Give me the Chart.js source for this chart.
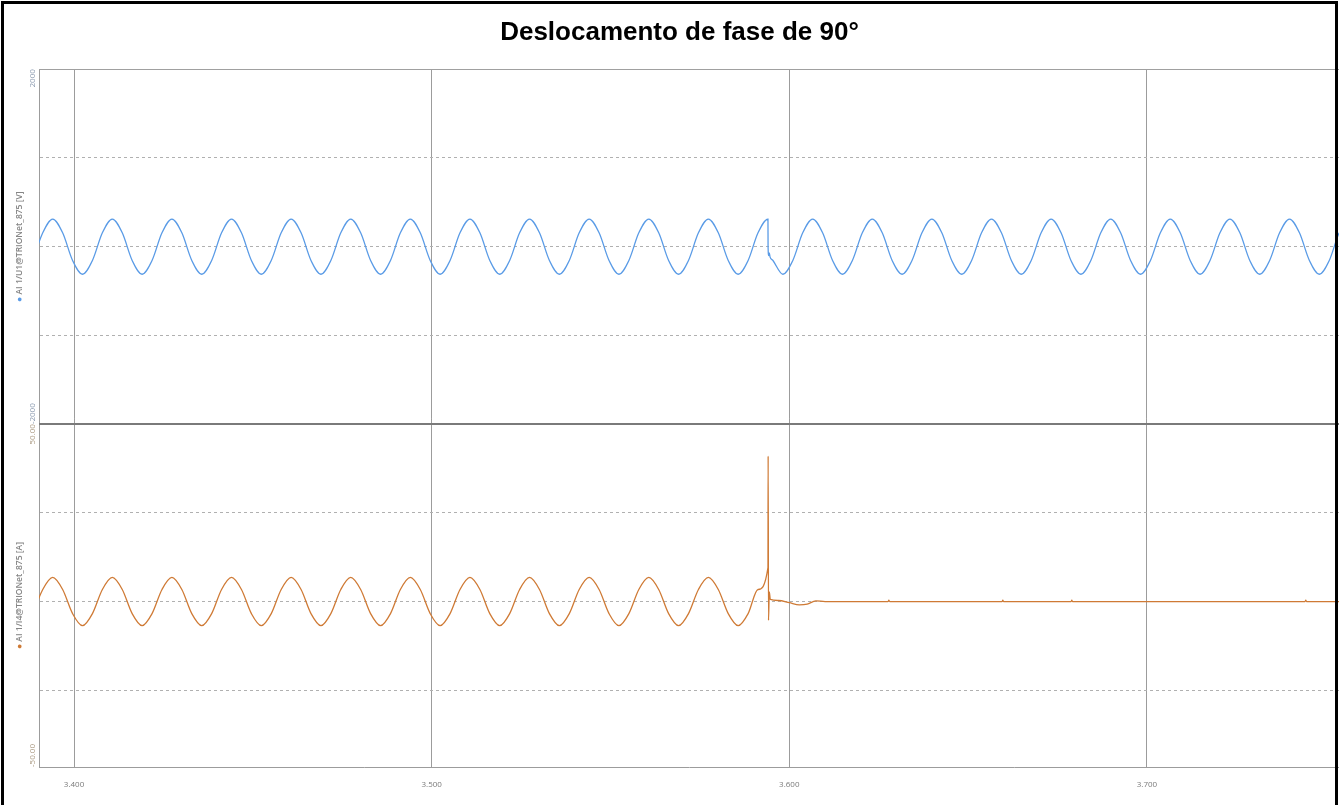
<!DOCTYPE html>
<html>
<head>
<meta charset="utf-8">
<script src="https://cdn.jsdelivr.net/npm/chart.js@4.4.1/dist/chart.umd.min.js"></script>
<style>
  html, body { margin: 0; padding: 0; background: #fff; }
</style>
</head>
<body>
<canvas id="scope" width="1339" height="805"></canvas>
<script>
const chartTitle = 'Deslocamento de fase de 90°';
const voltName = 'AI 1/U1@TRIONet_875 [V]';
const currName = 'AI 1/I4@TRIONet_875 [A]';
const voltLabels = ['2000', '-2000'];
const currLabels = ['50.00', '-50.00'];
const timeRange = [3.3902, 3.7537];
const voltRange = [-2000, 2000];
const currRange = [-46.6, 50]; // lower part of the -50 band is hidden behind the time axis
const voltColor = '#5a9be6';
const currColor = '#cf7a35';

// sample instants before the phase jump (60 Hz, one point every 60 degrees)
const cycleTime = [
  3.38847, 3.39125,
  3.39403, 3.39681, 3.39959, 3.40236, 3.40514, 3.40792,
  3.41070, 3.41348, 3.41625, 3.41903, 3.42181, 3.42459,
  3.42736, 3.43014, 3.43292, 3.43570, 3.43848, 3.44125,
  3.44403, 3.44681, 3.44959, 3.45236, 3.45514, 3.45792,
  3.46070, 3.46348, 3.46625, 3.46903, 3.47181, 3.47459,
  3.47736, 3.48014, 3.48292, 3.48570, 3.48848, 3.49125,
  3.49403, 3.49681, 3.49959, 3.50236, 3.50514, 3.50792,
  3.51070, 3.51348, 3.51625, 3.51903, 3.52181, 3.52459,
  3.52736, 3.53014, 3.53292, 3.53570, 3.53848, 3.54125,
  3.54403, 3.54681, 3.54959, 3.55236, 3.55514, 3.55792,
  3.56070, 3.56348, 3.56625, 3.56903, 3.57181, 3.57459,
  3.57736, 3.58014, 3.58292, 3.58570, 3.58848, 3.59125,
  3.59403
];
const voltPre = [
  -156, 156,
  311, 156, -156, -311, -156, 156,
  311, 156, -156, -311, -156, 156,
  311, 156, -156, -311, -156, 156,
  311, 156, -156, -311, -156, 156,
  311, 156, -156, -311, -156, 156,
  311, 156, -156, -311, -156, 156,
  311, 156, -156, -311, -156, 156,
  311, 156, -156, -311, -156, 156,
  311, 156, -156, -311, -156, 156,
  311, 156, -156, -311, -156, 156,
  311, 156, -156, -311, -156, 156,
  311, 156, -156, -311, -156, 156,
  311
];
const currPre = [
  -3.4, 3.4,
  6.8, 3.4, -3.4, -6.8, -3.4, 3.4,
  6.8, 3.4, -3.4, -6.8, -3.4, 3.4,
  6.8, 3.4, -3.4, -6.8, -3.4, 3.4,
  6.8, 3.4, -3.4, -6.8, -3.4, 3.4,
  6.8, 3.4, -3.4, -6.8, -3.4, 3.4,
  6.8, 3.4, -3.4, -6.8, -3.4, 3.4,
  6.8, 3.4, -3.4, -6.8, -3.4, 3.4,
  6.8, 3.4, -3.4, -6.8, -3.4, 3.4,
  6.8, 3.4, -3.4, -6.8, -3.4, 3.4,
  6.8, 3.4, -3.4, -6.8, -3.4, 3.4,
  6.8, 3.4, -3.4, -6.8, -3.4, 3.4,
  6.8, 3.4, -3.4, -6.8, -3.4, 3.4,
  9.6
];

// after the jump: voltage shifted by 90 degrees
const voltPostTime = [
  3.59406, 3.59425, 3.59440, 3.59460, 3.59542, 3.59820, 3.60098, 3.60375,
  3.60653, 3.60931, 3.61209, 3.61486, 3.61764, 3.62042,
  3.62320, 3.62598, 3.62875, 3.63153, 3.63431, 3.63709,
  3.63986, 3.64264, 3.64542, 3.64820, 3.65098, 3.65375,
  3.65653, 3.65931, 3.66209, 3.66486, 3.66764, 3.67042,
  3.67320, 3.67598, 3.67875, 3.68153, 3.68431, 3.68709,
  3.68986, 3.69264, 3.69542, 3.69820, 3.70098, 3.70375,
  3.70653, 3.70931, 3.71209, 3.71486, 3.71764, 3.72042,
  3.72320, 3.72598, 3.72875, 3.73153, 3.73431, 3.73709,
  3.73986, 3.74264, 3.74542, 3.74820, 3.75098, 3.75375,
  3.75653
];
const voltPost = [
  0, -100, -70, -115, -156, -311, -156, 156,
  311, 156, -156, -311, -156, 156,
  311, 156, -156, -311, -156, 156,
  311, 156, -156, -311, -156, 156,
  311, 156, -156, -311, -156, 156,
  311, 156, -156, -311, -156, 156,
  311, 156, -156, -311, -156, 156,
  311, 156, -156, -311, -156, 156,
  311, 156, -156, -311, -156, 156,
  311, 156, -156, -311, -156, 156,
  311
];

// after the jump: current spike then ~0
const currPostTime = [
  3.59408, 3.59418, 3.59440, 3.59470, 3.59700, 3.60000, 3.60280, 3.60500, 3.60740, 3.61000,
  3.62760, 3.62783, 3.62806,
  3.65950, 3.65970, 3.65990,
  3.67880, 3.67899, 3.67918,
  3.74420, 3.74441, 3.74462,
  3.75653
];
const currPost = [
  41, -5.3, 2.7, 0.6, 0.3, -0.3, -0.9, -0.7, 0.2, 0,
  0, 0.4, 0,
  0, 0.4, 0,
  0, 0.4, 0,
  0, 0.4, 0,
  0
];

const toPoints = (times, values) => times.map((t, i) => ({ x: t, y: values[i] }));
const voltData = toPoints(cycleTime, voltPre).concat(toPoints(voltPostTime, voltPost));
const currData = toPoints(cycleTime, currPre).concat(toPoints(currPostTime, currPost));

// panel edges are drawn solid by the plugin, hide the dashed ones there
const edgeColor = (range) => (c) =>
  (c.tick.value <= range[0] || c.tick.value >= range[1] ? 'rgba(0,0,0,0)' : '#b0b0b0');

function drawUp(ctx, parts, x, y, align) {
  // draws text rotated -90deg; parts = [[text, color], ...]
  ctx.save();
  ctx.translate(x, y);
  ctx.rotate(-Math.PI / 2);
  ctx.textBaseline = 'middle';
  ctx.textAlign = 'left';
  const total = parts.reduce((s, p) => s + ctx.measureText(p[0]).width, 0);
  let u = align === 'left' ? 0 : align === 'right' ? -total : -total / 2;
  parts.forEach(([txt, col]) => {
    ctx.fillStyle = col;
    ctx.fillText(txt, u, 0);
    u += ctx.measureText(txt).width;
  });
  ctx.restore();
}

const scopeFrame = {
  id: 'scopeFrame',
  afterDraw(chart) {
    const { ctx, chartArea: area } = chart;
    const top = chart.scales.y;
    const bot = chart.scales.y2;
    ctx.save();
    ctx.strokeStyle = '#a0a0a0';
    ctx.lineWidth = 1;
    ctx.beginPath();
    ctx.moveTo(area.left, Math.round(area.top) + 0.5);
    ctx.lineTo(area.right, Math.round(area.top) + 0.5);
    ctx.stroke();
    ctx.strokeStyle = '#7a7a7a';
    ctx.lineWidth = 2;
    ctx.beginPath();
    ctx.moveTo(area.left, Math.round(top.bottom));
    ctx.lineTo(area.right, Math.round(top.bottom));
    ctx.stroke();

    ctx.font = '8px "Open Sans"';
    drawUp(ctx, [[voltLabels[0], '#8797ad']], 33, top.top, 'right');
    drawUp(ctx, [[voltLabels[1], '#8797ad']], 33, top.bottom, 'left');
    drawUp(ctx, [[currLabels[0], '#a8977f']], 33, bot.top, 'right');
    drawUp(ctx, [[currLabels[1], '#a8977f']], 33, bot.bottom, 'left');

    ctx.font = '600 8.5px "Open Sans"';
    drawUp(ctx, [['● ', voltColor], [voltName, '#858585']], 20, (top.top + top.bottom) / 2, 'center');
    drawUp(ctx, [['● ', currColor], [currName, '#858585']], 20, (bot.top + bot.bottom) / 2, 'center');

    ctx.strokeStyle = '#000';
    ctx.lineWidth = 3;
    ctx.strokeRect(2.5, 2.5, 1334, 900);
    ctx.restore();
  }
};

new Chart(document.getElementById('scope'), {
  type: 'line',
  data: {
    datasets: [
      { label: voltName, data: voltData, borderColor: voltColor, yAxisID: 'y' },
      { label: currName, data: currData, borderColor: currColor, yAxisID: 'y2' }
    ]
  },
  options: {
    responsive: false,
    animation: false,
    layout: { padding: { left: 20, right: 0, top: 0, bottom: 0 } },
    elements: {
      point: { radius: 0 },
      line: { borderWidth: 1.3, cubicInterpolationMode: 'monotone' }
    },
    plugins: {
      legend: { display: false },
      tooltip: { enabled: false },
      title: {
        display: true,
        text: chartTitle,
        color: '#000',
        font: { family: '"Liberation Sans", Arial, sans-serif', size: 26, weight: 'bold' },
        padding: { top: 17, bottom: 21 }
      }
    },
    scales: {
      x: {
        type: 'linear',
        min: timeRange[0],
        max: timeRange[1],
        afterFit: (s) => { s.height = 38; },
        grid: { color: '#9c9c9c', drawTicks: false },
        border: { color: '#9c9c9c' },
        ticks: {
          stepSize: 0.1,
          includeBounds: false,
          autoSkip: false,
          maxRotation: 0,
          padding: 13,
          color: '#7a7a7a',
          font: { family: '"Open Sans"', size: 8 },
          callback: (v) => Number(v).toFixed(3)
        }
      },
      y: {
        type: 'linear',
        position: 'left',
        stack: 'scope',
        stackWeight: 355,
        weight: 1,
        min: voltRange[0],
        max: voltRange[1],
        afterFit: (s) => { s.width = 19; },
        ticks: { display: false, stepSize: 1000, includeBounds: false },
        grid: { color: edgeColor(voltRange), drawTicks: false },
        border: { color: '#9c9c9c', dash: [3, 3] }
      },
      y2: {
        type: 'linear',
        position: 'left',
        stack: 'scope',
        stackWeight: 343,
        weight: 0,
        min: currRange[0],
        max: currRange[1],
        afterFit: (s) => { s.width = 19; },
        ticks: { display: false, stepSize: 25, includeBounds: false },
        grid: { color: edgeColor(currRange), drawTicks: false },
        border: { color: '#9c9c9c', dash: [3, 3] }
      }
    }
  },
  plugins: [scopeFrame]
});
</script>
</body>
</html>
